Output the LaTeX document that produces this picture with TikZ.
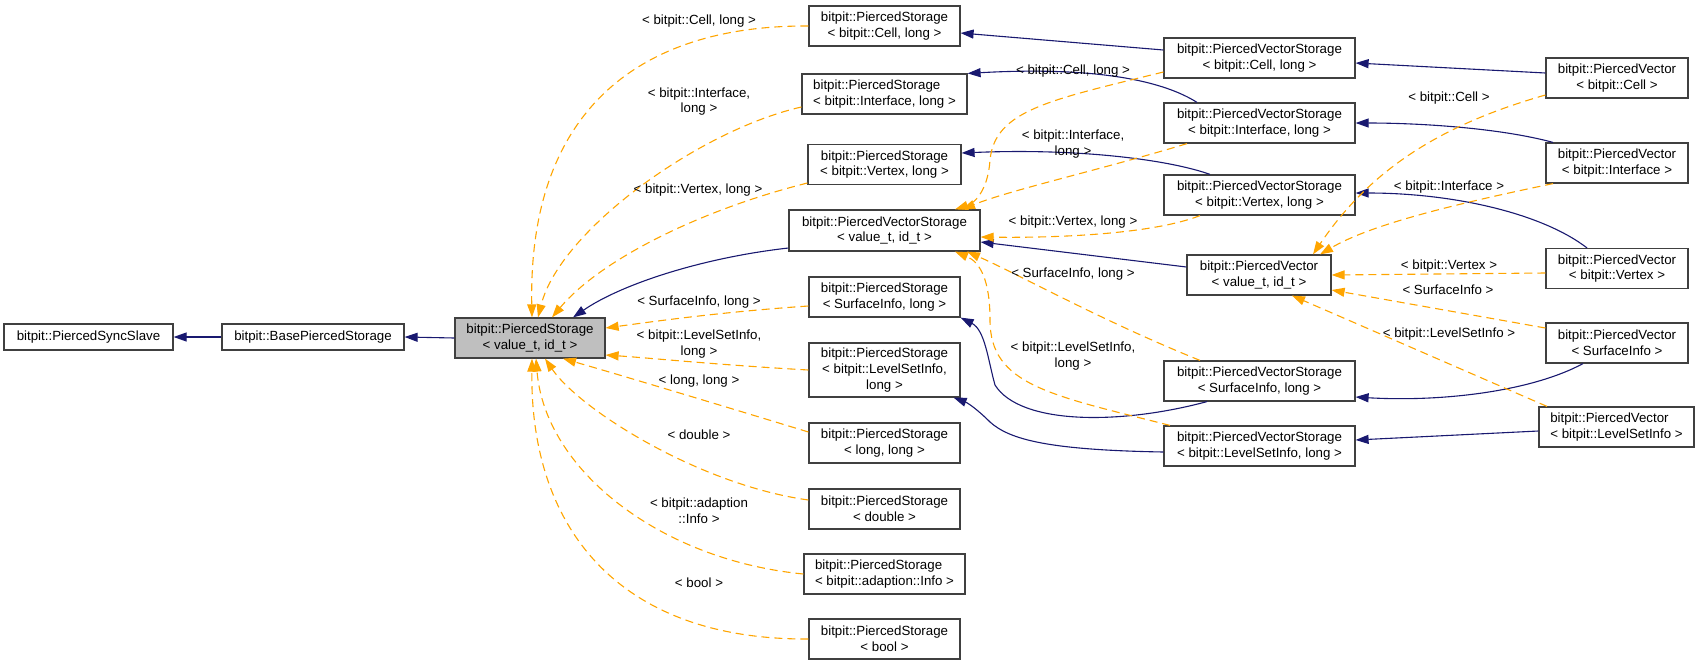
\documentclass[tikz,border=0pt]{standalone}
\usepackage{fontspec}
\setmainfont{Liberation Sans}
\usetikzlibrary{arrows.meta}
\definecolor{cnavy}{HTML}{191970}
\definecolor{corange}{HTML}{FFA500}
\definecolor{cframe}{HTML}{404040}
\definecolor{cgreyfill}{HTML}{BFBFBF}
\tikzset{
  every picture/.style={font=\fontsize{13.3}{15.6}\selectfont, line width=1.1pt},
  cls/.style={draw=cframe, fill=white, line width=1.2pt, align=center, inner sep=0pt, minimum width=#1, minimum height=40pt},
  cls/.default=151pt,
  inh/.style={-{Triangle[length=13pt,width=9pt]}, draw=cnavy, line width=1.1pt},
  tpl/.style={-{Triangle[length=13pt,width=9pt]}, draw=corange, dash pattern=on 8pt off 5pt, line width=1.1pt},
  lbl/.style={align=center, inner sep=0pt},
}

\begin{document}
\begin{tikzpicture}[x=1pt, y=-1pt]
  \useasboundingbox (0,0) rectangle (1700,665);
  % left column
  \node[cls=169pt, minimum height=26pt] (sync) at (88.5,337) {bitpit::PiercedSyncSlave};
  \node[cls=182pt, minimum height=26pt] (base) at (313,337) {bitpit::BasePiercedStorage};
  \node[cls=150pt, fill=cgreyfill] (ps) at (530,338) {bitpit::PiercedStorage\\< value\_t, id\_t >};
  % PiercedStorage instances
  \node[cls] (psCell) at (884.5,26) {bitpit::PiercedStorage\\< bitpit::Cell, long >};
  \node[cls=165pt, align=left] (psIface) at (884.5,94) {bitpit::PiercedStorage\\< bitpit::Interface, long >};
  \node[cls=153pt] (psVertex) at (884.5,164.5) {bitpit::PiercedStorage\\< bitpit::Vertex, long >};
  \node[cls=191pt, minimum height=41pt] (pvs) at (884.5,230.5) {bitpit::PiercedVectorStorage\\< value\_t, id\_t >};
  \node[cls] (psSurf) at (884.5,297) {bitpit::PiercedStorage\\< SurfaceInfo, long >};
  \node[cls, minimum height=54pt] (psLevel) at (884.5,370) {bitpit::PiercedStorage\\< bitpit::LevelSetInfo,\\long >};
  \node[cls] (psLong) at (884.5,443) {bitpit::PiercedStorage\\< long, long >};
  \node[cls] (psDouble) at (884.5,509) {bitpit::PiercedStorage\\< double >};
  \node[cls=161pt, align=left] (psAdapt) at (884.5,574) {bitpit::PiercedStorage\\< bitpit::adaption::Info >};
  \node[cls] (psBool) at (884.5,639) {bitpit::PiercedStorage\\< bool >};
  % PiercedVectorStorage instances
  \node[cls=191pt] (pvsCell) at (1259.5,58) {bitpit::PiercedVectorStorage\\< bitpit::Cell, long >};
  \node[cls=191pt] (pvsIface) at (1259.5,123) {bitpit::PiercedVectorStorage\\< bitpit::Interface, long >};
  \node[cls=191pt] (pvsVertex) at (1259.5,195) {bitpit::PiercedVectorStorage\\< bitpit::Vertex, long >};
  \node[cls=144pt] (pv) at (1259,275) {bitpit::PiercedVector\\< value\_t, id\_t >};
  \node[cls=191pt] (pvsSurf) at (1259.5,381) {bitpit::PiercedVectorStorage\\< SurfaceInfo, long >};
  \node[cls=191pt] (pvsLevel) at (1259.5,446) {bitpit::PiercedVectorStorage\\< bitpit::LevelSetInfo, long >};
  % PiercedVector instances
  \node[cls=142pt] (pvCell) at (1617,78) {bitpit::PiercedVector\\< bitpit::Cell >};
  \node[cls=142pt] (pvIface) at (1617,163) {bitpit::PiercedVector\\< bitpit::Interface >};
  \node[cls=142pt] (pvVertex) at (1617,268.5) {bitpit::PiercedVector\\< bitpit::Vertex >};
  \node[cls=142pt] (pvSurf) at (1617,343) {bitpit::PiercedVector\\< SurfaceInfo >};
  \node[cls=155pt, align=left] (pvLevel) at (1616.5,427) {bitpit::PiercedVector\\< bitpit::LevelSetInfo >};

  % inheritance
  \draw[inh] (base.west) -- (sync.east);
  \draw[inh] (ps.west) -- (base.east);
  \draw[inh] ([yshift=-17.5pt]pvs.west) .. controls (700,258) and (620,285) .. ([xshift=43pt]ps.north);
  \draw[inh] ([yshift=8pt]pvsCell.west) -- ([yshift=-7pt]psCell.east);
  \draw[inh] ([xshift=-62.5pt]pvsIface.north) .. controls (1165,82) and (1100,66) .. (psIface.north east);
  \draw[inh] ([xshift=-49.5pt]pvsVertex.north) .. controls (1170,160) and (1080,148) .. ([yshift=11.5pt]psVertex.east);
  \draw[inh] ([yshift=8pt]pv.west) -- ([yshift=-11.5pt]pvs.east);
  \draw[inh] ([xshift=-52.5pt]pvsSurf.south) .. controls (1120,425) and (1020,425) .. (995,385)
    .. controls (988,360) and (985,330) .. (psSurf.south east);
  \draw[inh] ([yshift=-6pt]pvsLevel.west) .. controls (1050,450) and (1010,440) .. (990,422)
    .. controls (978,410) and (968,403) .. ([xshift=-7pt]psLevel.south east);
  \draw[inh] ([yshift=5pt]pvCell.west) -- ([yshift=-5pt]pvsCell.east);
  \draw[inh] ([xshift=-64pt]pvIface.north) .. controls (1500,128) and (1420,123) .. (pvsIface.east);
  \draw[inh] ([xshift=-30pt]pvVertex.north) .. controls (1540,212) and (1450,193) .. ([yshift=2pt]pvsVertex.east);
  \draw[inh] ([xshift=-34pt]pvSurf.south) .. controls (1530,392) and (1440,402) .. ([yshift=-16pt]pvsSurf.east);
  \draw[inh] ([yshift=-4pt]pvLevel.west) -- ([yshift=6pt]pvsLevel.east);

  % template instances of PiercedStorage
  \draw[tpl] (psCell.west) .. controls (640,25) and (528,110) .. ([xshift=2pt]ps.north);
  \draw[tpl] ([yshift=-13pt]psIface.west) .. controls (700,130) and (560,230) .. ([xshift=8pt]ps.north);
  \draw[tpl] ([yshift=-18.5pt]psVertex.west) .. controls (700,210) and (600,260) .. ([xshift=22pt]ps.north);
  \draw[tpl] ([yshift=-9pt]psSurf.west) .. controls (720,312) and (650,322) .. ([yshift=10pt]ps.east);
  \draw[tpl] (psLevel.west) .. controls (720,365) and (650,358) .. ([yshift=-17pt]ps.east);
  \draw[tpl] ([yshift=11pt]psLong.west) .. controls (720,405) and (610,372) .. ([xshift=33pt]ps.south);
  \draw[tpl] ([yshift=9pt]psDouble.west) .. controls (700,485) and (580,410) .. ([xshift=15pt]ps.south);
  \draw[tpl] (psAdapt.west) .. controls (660,560) and (545,470) .. ([xshift=6pt]ps.south);
  \draw[tpl] (psBool.west) .. controls (620,640) and (530,530) .. ([xshift=2pt]ps.south);
  \node[lbl] (lPsCell) at (699,21) {< bitpit::Cell, long >};
  \node[lbl] (lPsIface) at (699,101.5) {< bitpit::Interface,\\long >};
  \node[lbl] (lPsVertex) at (698,190) {< bitpit::Vertex, long >};
  \node[lbl] (lPsSurf) at (699,302) {< SurfaceInfo, long >};
  \node[lbl] (lPsLevel) at (699,344) {< bitpit::LevelSetInfo,\\long >};
  \node[lbl] (lPsLong) at (699,381) {< long, long >};
  \node[lbl] (lPsDouble) at (699,435) {< double >};
  \node[lbl] (lPsAdapt) at (699,510.5) {< bitpit::adaption\\::Info >};
  \node[lbl] (lPsBool) at (699,583) {< bool >};

  % template instances of PiercedVectorStorage
  \draw[tpl] ([yshift=-14pt]pvsCell.west) .. controls (1050,100) and (995,110) .. (990,160)
    .. controls (988,190) and (975,203) .. ([xshift=70.5pt]pvs.north);
  \draw[tpl] ([xshift=-72.5pt]pvsIface.south) .. controls (1100,170) and (1010,190) .. ([xshift=77.5pt]pvs.north);
  \draw[tpl] ([xshift=-59.5pt]pvsVertex.south) .. controls (1150,235) and (1050,238) .. ([yshift=-6.5pt]pvs.east);
  \draw[tpl] ([xshift=-59.5pt]pvsSurf.north) .. controls (1100,320) and (1020,275) .. ([xshift=82.5pt]pvs.south);
  \draw[tpl] ([xshift=-89.5pt]pvsLevel.north) .. controls (1050,395) and (990,385) .. (990,320)
    .. controls (990,280) and (980,262) .. ([xshift=70.5pt]pvs.south);
  \node[lbl] (lPvsCell) at (1073,71) {< bitpit::Cell, long >};
  \node[lbl] (lPvsIface) at (1073,144) {< bitpit::Interface,\\long >};
  \node[lbl] (lPvsVertex) at (1073,222) {< bitpit::Vertex, long >};
  \node[lbl] (lPvsSurf) at (1073,274) {< SurfaceInfo, long >};
  \node[lbl] (lPvsLevel) at (1073,356) {< bitpit::LevelSetInfo,\\long >};

  % template instances of PiercedVector
  \draw[tpl] ([yshift=-17pt]pvCell.west) .. controls (1440,125) and (1370,170) .. ([xshift=54pt]pv.north);
  \draw[tpl] ([xshift=-64pt]pvIface.south) .. controls (1450,205) and (1370,225) .. ([xshift=61pt]pv.north);
  \draw[tpl] ([yshift=-4.5pt]pvVertex.west) -- (pv.east);
  \draw[tpl] ([yshift=15pt]pvSurf.west) -- ([yshift=-15pt]pv.east);
  \draw[tpl] ([xshift=-69.5pt]pvLevel.north) -- ([xshift=33pt]pv.south);
  \node[lbl] (lPvCell) at (1449,98) {< bitpit::Cell >};
  \node[lbl] (lPvIface) at (1449,187) {< bitpit::Interface >};
  \node[lbl] (lPvVertex) at (1449,266) {< bitpit::Vertex >};
  \node[lbl] (lPvSurf) at (1448,290) {< SurfaceInfo >};
  \node[lbl] (lPvLevel) at (1449,334) {< bitpit::LevelSetInfo >};
\end{tikzpicture}
\end{document}
